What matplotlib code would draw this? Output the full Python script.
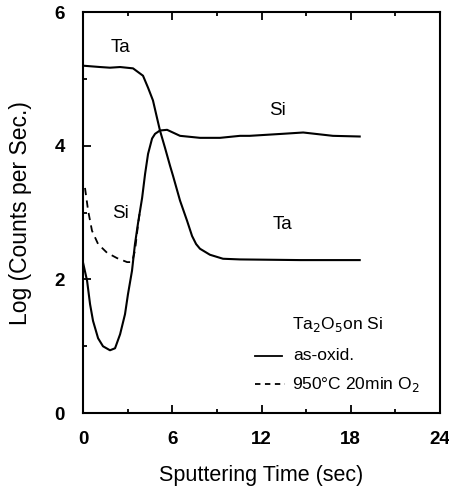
import matplotlib
matplotlib.use("Agg")
import matplotlib.pyplot as plt
from matplotlib.lines import Line2D

plt.rcParams['font.family'] = ['Liberation Sans', 'DejaVu Sans']

# Ta signal, as-oxidized
ta_time = [0.0, 1.14, 1.81, 2.49, 3.36, 4.03, 4.37, 4.70, 4.97, 5.17, 5.51,
           5.85, 6.05, 6.52, 6.99, 7.33, 7.60, 7.86, 8.53, 9.41, 10.55, 14.6, 18.6]
ta_log = [5.20, 5.18, 5.17, 5.18, 5.16, 5.05, 4.87, 4.68, 4.42, 4.23, 3.97,
          3.70, 3.55, 3.18, 2.88, 2.65, 2.53, 2.46, 2.37, 2.31, 2.30, 2.29, 2.29]

# Si signal, as-oxidized
si_time = [0.0, 0.27, 0.47, 0.67, 1.01, 1.34, 1.81, 2.15, 2.49, 2.82, 3.02,
           3.29, 3.49, 3.70, 3.97, 4.17, 4.37, 4.64, 4.84, 5.17, 5.65, 6.52,
           7.86, 9.21, 10.55, 11.2, 13.4, 14.8, 16.8, 18.6]
si_log = [2.25, 1.98, 1.63, 1.38, 1.12, 1.00, 0.94, 0.97, 1.18, 1.48, 1.78,
          2.13, 2.53, 2.85, 3.22, 3.58, 3.88, 4.11, 4.18, 4.23, 4.24, 4.15,
          4.12, 4.12, 4.15, 4.15, 4.18, 4.20, 4.15, 4.14]

# Si signal, 950C 20min O2
si_ann_time = [0.13, 0.34, 0.60, 1.01, 1.61, 2.28, 2.96, 3.29, 3.49, 3.70, 3.83]
si_ann_log = [3.37, 3.03, 2.73, 2.53, 2.40, 2.32, 2.26, 2.26, 2.43, 2.83, 3.03]

fig = plt.figure(figsize=(4.49, 4.90), dpi=100)
ax = fig.add_axes([0.185, 0.157, 0.795, 0.818])

ax.plot(ta_time, ta_log, color='black', lw=1.5)
ax.plot(si_time, si_log, color='black', lw=1.5)
ax.plot(si_ann_time, si_ann_log, color='black', lw=1.3, ls=(0, (4, 3)))

ax.text(2.49, 5.47, 'Ta', fontsize=13.5, ha='center', va='center')
ax.text(2.49, 2.98, 'Si', fontsize=13.5, ha='center', va='center')
ax.text(13.1, 4.53, 'Si', fontsize=13.5, ha='center', va='center')
ax.text(13.44, 2.82, 'Ta', fontsize=13.5, ha='center', va='center')

# legend drawn by hand to match the original layout
ax.text(17.1, 1.33, r'Ta$_2$O$_5$on Si', fontsize=12.5, ha='center', va='center')
ax.add_line(Line2D([11.56, 13.37], [0.86, 0.86], color='black', lw=1.3))
ax.text(14.1, 0.86, 'as-oxid.', fontsize=12.5, va='center')
ax.add_line(Line2D([11.56, 13.6], [0.43, 0.43], color='black', lw=1.3, ls=(0, (3, 2.5))))
ax.text(14.05, 0.43, r'950°C 20min O$_2$', fontsize=12.5, va='center')

ax.set_xlim(0, 24)
ax.set_ylim(0, 6)
ax.set_xticks([0, 6, 12, 18, 24])
ax.set_xticks([3, 9, 15, 21], minor=True)
ax.set_yticks([0, 2, 4, 6])
ax.set_yticks([1, 3, 5], minor=True)
ax.tick_params(which='both', direction='in', top=True, right=False, width=1.3)
ax.tick_params(which='major', length=6, labelsize=13.5, pad=13)
ax.tick_params(which='minor', length=3)
for lab in ax.get_xticklabels() + ax.get_yticklabels():
    lab.set_fontweight('bold')
for sp in ax.spines.values():
    sp.set_linewidth(1.5)

ax.set_xlabel('Sputtering Time (sec)', fontsize=15.5, labelpad=12)
ax.set_ylabel('Log (Counts per Sec.)', fontsize=16.5, labelpad=16)

fig.savefig('out.png', dpi=100)
